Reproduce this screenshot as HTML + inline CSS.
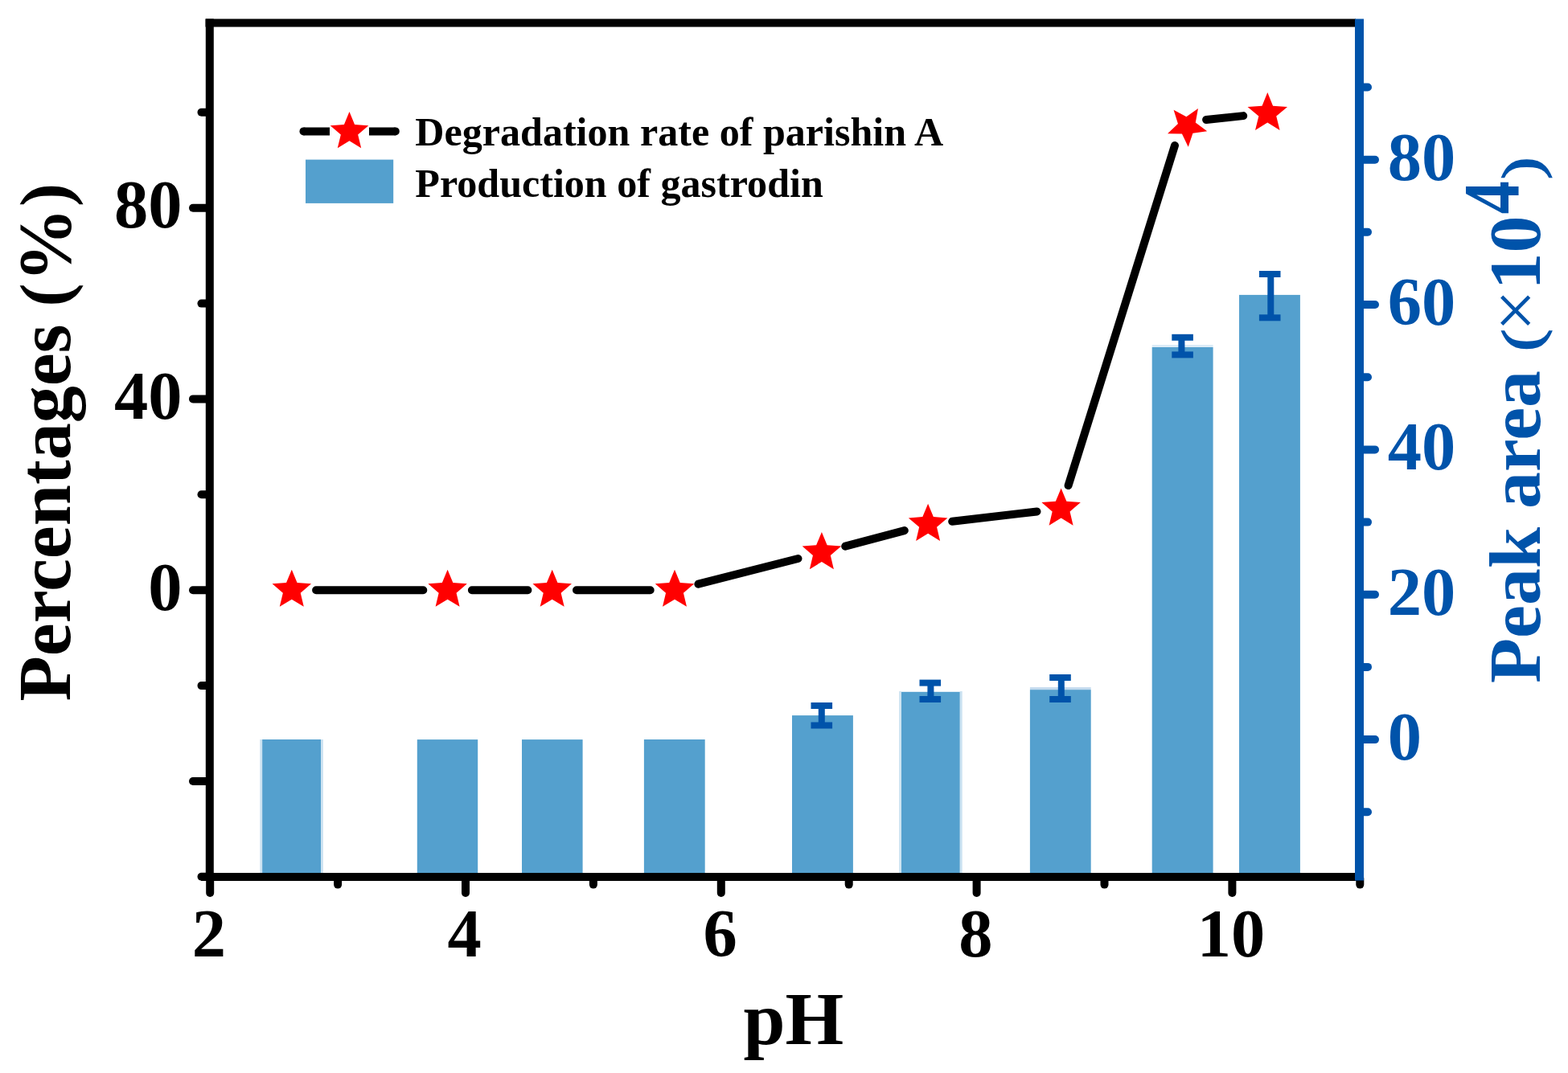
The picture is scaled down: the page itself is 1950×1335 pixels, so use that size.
<!DOCTYPE html>
<html><head><meta charset="utf-8"><title>pH chart</title><style>html,body{margin:0;padding:0;background:#fff;overflow:hidden}svg{display:block}text{font-family:"Liberation Serif","Times New Roman",serif;font-weight:bold}</style></head><body>
<svg width="1950" height="1335" viewBox="0 0 1950 1335">
<rect width="1950" height="1335" fill="#fff"/>
<rect x="326.1" y="920.0" width="72.9" height="171.0" fill="#54a0ce"/>
<rect x="518.8" y="920.1" width="75.4" height="170.9" fill="#54a0ce"/>
<rect x="649.0" y="920.1" width="75.6" height="170.9" fill="#54a0ce"/>
<rect x="800.9" y="920.0" width="75.8" height="171.0" fill="#54a0ce"/>
<rect x="985.0" y="890.1" width="75.9" height="200.9" fill="#54a0ce"/>
<rect x="1120.8" y="860.8" width="73.0" height="230.2" fill="#54a0ce"/>
<rect x="1280.9" y="858.1" width="75.8" height="232.9" fill="#54a0ce"/>
<rect x="1432.7" y="432.0" width="75.9" height="659.0" fill="#54a0ce"/>
<rect x="1541.0" y="366.9" width="75.9" height="724.1" fill="#54a0ce"/>
<rect x="323.3" y="920" width="2.8" height="171" fill="#cbe2f1"/><rect x="399" y="920" width="2.9" height="171" fill="#cbe2f1"/>
<rect x="1118.2" y="860" width="2.6" height="231" fill="#cbe2f1"/><rect x="1193.8" y="860" width="2.9" height="231" fill="#cbe2f1"/>
<rect x="1280.9" y="855.1" width="75.8" height="3" fill="#c3daee"/>
<rect x="1432.7" y="429" width="75.9" height="3" fill="#dcecf7"/>
<g stroke="#0053aa" stroke-width="8" fill="none"><line x1="1021.8" y1="878.0" x2="1021.8" y2="902.5"/><line x1="1008.5" y1="878.0" x2="1035.1" y2="878.0"/><line x1="1008.5" y1="902.5" x2="1035.1" y2="902.5"/></g>
<g stroke="#0053aa" stroke-width="8" fill="none"><line x1="1157.4" y1="849.6" x2="1157.4" y2="870.0"/><line x1="1143.5" y1="849.6" x2="1170.1" y2="849.6"/><line x1="1143.5" y1="870.0" x2="1170.1" y2="870.0"/></g>
<g stroke="#0053aa" stroke-width="8" fill="none"><line x1="1319.8" y1="843.0" x2="1319.8" y2="870.0"/><line x1="1305.2" y1="843.0" x2="1331.8" y2="843.0"/><line x1="1305.2" y1="870.0" x2="1331.8" y2="870.0"/></g>
<g stroke="#0053aa" stroke-width="8" fill="none"><line x1="1469.4" y1="419.8" x2="1469.4" y2="441.4"/><line x1="1457.3" y1="419.8" x2="1483.8999999999999" y2="419.8"/><line x1="1457.3" y1="441.4" x2="1483.8999999999999" y2="441.4"/></g>
<g stroke="#0053aa" stroke-width="8" fill="none"><line x1="1580.3" y1="341.0" x2="1580.3" y2="395.3"/><line x1="1565.9" y1="341.0" x2="1592.5" y2="341.0"/><line x1="1565.9" y1="395.3" x2="1592.5" y2="395.3"/></g>
<path d="M393.1,734.2L526.3,734.2M586.9,734.2L656.4,734.2M717.0,734.2L808.7,734.2M868.4,726.7L992.5,695.0M1051.2,679.7L1124.8,660.1M1184.2,648.8L1289.5,636.5M1328.6,604.1L1461.0,181.0M1500.1,149.0L1546.2,144.1" stroke="#000" stroke-width="10" stroke-linecap="round" fill="none"/>
<polygon points="362.80,708.70 369.56,724.90 387.05,726.32 373.74,737.75 377.79,754.83 362.80,745.70 347.81,754.83 351.86,737.75 338.55,726.32 356.04,724.90" fill="#f00"/>
<polygon points="556.60,708.70 563.36,724.90 580.85,726.32 567.54,737.75 571.59,754.83 556.60,745.70 541.61,754.83 545.66,737.75 532.35,726.32 549.84,724.90" fill="#f00"/>
<polygon points="686.70,708.70 693.46,724.90 710.95,726.32 697.64,737.75 701.69,754.83 686.70,745.70 671.71,754.83 675.76,737.75 662.45,726.32 679.94,724.90" fill="#f00"/>
<polygon points="839.00,708.70 845.76,724.90 863.25,726.32 849.94,737.75 853.99,754.83 839.00,745.70 824.01,754.83 828.06,737.75 814.75,726.32 832.24,724.90" fill="#f00"/>
<polygon points="1021.90,662.00 1028.66,678.20 1046.15,679.62 1032.84,691.05 1036.89,708.13 1021.90,699.00 1006.91,708.13 1010.96,691.05 997.65,679.62 1015.14,678.20" fill="#f00"/>
<polygon points="1154.10,626.80 1160.86,643.00 1178.35,644.42 1165.04,655.85 1169.09,672.93 1154.10,663.80 1139.11,672.93 1143.16,655.85 1129.85,644.42 1147.34,643.00" fill="#f00"/>
<polygon points="1319.60,607.50 1326.36,623.70 1343.85,625.12 1330.54,636.55 1334.59,653.63 1319.60,644.50 1304.61,653.63 1308.66,636.55 1295.35,625.12 1312.84,623.70" fill="#f00"/>
<polygon points="1477.73,182.65 1469.94,166.51 1452.02,166.33 1464.96,153.94 1459.59,136.84 1475.38,145.32 1489.98,134.93 1486.79,152.57 1501.19,163.24 1483.43,165.66" fill="#f00"/>
<polygon points="1576.30,115.00 1583.06,131.70 1601.03,132.97 1587.24,144.55 1591.58,162.03 1576.30,152.50 1561.02,162.03 1565.36,144.55 1551.57,132.97 1569.54,131.70" fill="#f00"/>
<g stroke="#000" stroke-width="10" fill="none">
<line x1="255.5" y1="28.6" x2="1686" y2="28.6"/>
<line x1="250" y1="1091" x2="1696" y2="1091"/>
<line x1="260.8" y1="23.6" x2="260.8" y2="1096"/>
</g>
<g stroke="#000" stroke-width="10" stroke-linecap="round">
<line x1="240" y1="258.7" x2="258" y2="258.7"/>
<line x1="240" y1="496.4" x2="258" y2="496.4"/>
<line x1="240" y1="734.2" x2="258" y2="734.2"/>
<line x1="240" y1="972.0" x2="258" y2="972.0"/>
<line x1="250.5" y1="139.8" x2="258" y2="139.8"/>
<line x1="250.5" y1="377.6" x2="258" y2="377.6"/>
<line x1="250.5" y1="615.3" x2="258" y2="615.3"/>
<line x1="250.5" y1="853.1" x2="258" y2="853.1"/>
<line x1="250.5" y1="1090.8" x2="258" y2="1090.8"/>
<line x1="261.2" y1="1093" x2="261.2" y2="1110.9"/>
<line x1="579.0" y1="1093" x2="579.0" y2="1110.9"/>
<line x1="896.8" y1="1093" x2="896.8" y2="1110.9"/>
<line x1="1214.6" y1="1093" x2="1214.6" y2="1110.9"/>
<line x1="1532.4" y1="1093" x2="1532.4" y2="1110.9"/>
<line x1="420.1" y1="1093" x2="420.1" y2="1100.6"/>
<line x1="737.9" y1="1093" x2="737.9" y2="1100.6"/>
<line x1="1055.7" y1="1093" x2="1055.7" y2="1100.6"/>
<line x1="1373.5" y1="1093" x2="1373.5" y2="1100.6"/>
<line x1="1691.3" y1="1093" x2="1691.3" y2="1100.6"/>
</g>
<line x1="1690.5" y1="23.6" x2="1690.5" y2="1095.5" stroke="#0053aa" stroke-width="11"/>
<g stroke="#0053aa" stroke-width="10" stroke-linecap="round">
<line x1="1693" y1="198.7" x2="1710" y2="198.7"/>
<line x1="1693" y1="379.0" x2="1710" y2="379.0"/>
<line x1="1693" y1="559.4" x2="1710" y2="559.4"/>
<line x1="1693" y1="739.7" x2="1710" y2="739.7"/>
<line x1="1693" y1="920.1" x2="1710" y2="920.1"/>
<line x1="1693" y1="108.5" x2="1701" y2="108.5"/>
<line x1="1693" y1="288.8" x2="1701" y2="288.8"/>
<line x1="1693" y1="469.2" x2="1701" y2="469.2"/>
<line x1="1693" y1="649.6" x2="1701" y2="649.6"/>
<line x1="1693" y1="829.9" x2="1701" y2="829.9"/>
<line x1="1693" y1="1010.3" x2="1701" y2="1010.3"/>
</g>
<text x="226.5" y="283.2" font-size="84.5" text-anchor="end">80</text>
<text x="226.5" y="520.9" font-size="84.5" text-anchor="end">40</text>
<text x="226.5" y="758.7" font-size="84.5" text-anchor="end">0</text>
<text x="259.9" y="1190.3" font-size="84.5" text-anchor="middle">2</text>
<text x="577.7" y="1190.3" font-size="84.5" text-anchor="middle">4</text>
<text x="895.5" y="1190.3" font-size="84.5" text-anchor="middle">6</text>
<text x="1213.3" y="1190.3" font-size="84.5" text-anchor="middle">8</text>
<text x="1531.1" y="1190.3" font-size="84.5" text-anchor="middle">10</text>
<text x="1725.7" y="223.5" font-size="84.5" fill="#0053aa">80</text>
<text x="1725.7" y="403.8" font-size="84.5" fill="#0053aa">60</text>
<text x="1725.7" y="584.2" font-size="84.5" fill="#0053aa">40</text>
<text x="1725.7" y="764.5" font-size="84.5" fill="#0053aa">20</text>
<text x="1725.7" y="944.9" font-size="84.5" fill="#0053aa">0</text>
<text x="924.4" y="1299" font-size="93.5">pH</text>
<text transform="translate(86.5,872.6) rotate(-90)" x="0" y="0" font-size="92.2">Percentages <tspan font-size="87.5" dx="-1.3" dy="-1.4">(</tspan><tspan dx="1.6" dy="1.4">%</tspan><tspan font-size="87.5" dx="1.7" dy="-1.4">)</tspan></text>
<g transform="translate(1915,850.1) rotate(-90)" fill="#0053aa">
<text x="0" y="0" font-size="92">Peak area</text>
<text transform="translate(413.0,0) scale(1.22,1)" x="0" y="0" font-size="67.5" style="font-weight:normal;stroke:#0053aa;stroke-width:1.6">(</text>
<text x="437.8" y="0" font-size="92" style="font-weight:normal">×</text>
<text x="489.5" y="0" font-size="92">10</text>
<text transform="translate(584.6,-27.1) scale(0.9,1.07)" x="-1.2" y="0" font-size="92">4</text>
<text transform="translate(627.0,0) scale(1.22,1)" x="0" y="0" font-size="67.5" style="font-weight:normal;stroke:#0053aa;stroke-width:1.6">)</text>
</g>
<path d="M377.5,163.4H410M459,163.4H491.8" stroke="#000" stroke-width="10" fill="none"/>
<circle cx="377.5" cy="163.4" r="5" fill="#000"/><circle cx="491.8" cy="163.4" r="5" fill="#000"/>
<polygon points="434.50,139.00 441.08,154.94 458.28,156.27 445.15,167.46 449.19,184.23 434.50,175.20 419.81,184.23 423.85,167.46 410.72,156.27 427.92,154.94" fill="#f00"/>
<rect x="380" y="198.6" width="109.2" height="54.3" fill="#54a0ce"/>
<text x="516.3" y="181.4" font-size="50.1">Degradation rate of parishin A</text>
<text x="516.3" y="244.5" font-size="50.1">Production of gastrodin</text>
</svg></body></html>
